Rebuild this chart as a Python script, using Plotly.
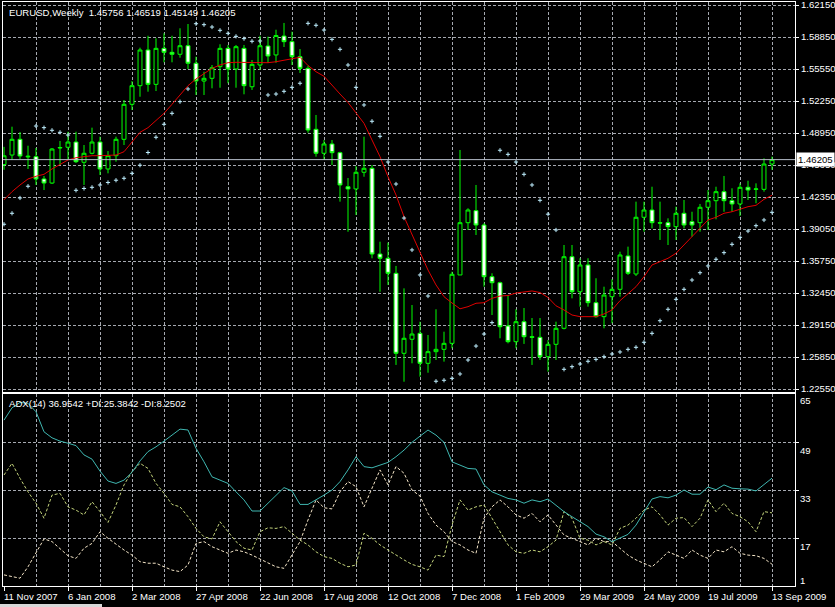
import pandas as pd
import plotly.graph_objects as go
from plotly.subplots import make_subplots

# ---------------- data ----------------
start_week = "2007-11-11"
open_ = [1.4570,1.4668,1.4830,1.4648,1.4651,1.4421,1.4379,1.4740,1.4748,1.4802,
         1.4593,1.4686,1.4802,1.4524,1.4661,1.4830,1.5191,1.5383,1.5751,1.5397,
         1.5768,1.5727,1.5707,1.5795,1.5614,1.5431,1.5459,1.5579,1.5768,1.5555,
         1.5768,1.5372,1.5596,1.5792,1.5700,1.5895,1.5837,1.5682,1.5562,1.4933,
         1.4686,1.4782,1.4692,1.4341,1.4318,1.4490,1.4531,1.3647,1.3603,1.3448,
         1.2623,1.2768,1.2829,1.2520,1.2640,1.2664,1.2726,1.3431,1.3970,1.4094,
         1.3946,1.3413,1.3351,1.2905,1.2743,1.2949,1.2794,1.2788,1.2588,1.2716,
         1.2881,1.3619,1.3258,1.3534,1.3145,1.3001,1.3207,1.3283,1.3627,1.3441,
         1.4026,1.4101,1.3970,1.3970,1.3929,1.4067,1.3980,1.3970,1.4129,1.4197,
         1.4290,1.4197,1.4163,1.4335,1.4314,1.4314,1.45756]
high = [1.4752,1.4960,1.4905,1.4764,1.4740,1.4452,1.4740,1.4813,1.4908,1.4908,
        1.4771,1.4950,1.4857,1.4709,1.4857,1.5235,1.5431,1.5775,1.5898,1.5872,
        1.5923,1.5898,1.5975,1.6019,1.5682,1.5527,1.5596,1.5810,1.5803,1.5803,
        1.5803,1.5648,1.5898,1.5889,1.5960,1.6030,1.5940,1.5761,1.5590,1.5081,
        1.4823,1.4823,1.4702,1.4431,1.4555,1.4857,1.4565,1.3774,1.3764,1.3524,
        1.3293,1.3121,1.2949,1.2812,1.3077,1.2846,1.3465,1.4720,1.4119,1.4359,
        1.3964,1.3448,1.3362,1.3224,1.3077,1.3090,1.2987,1.2987,1.2760,1.2949,
        1.3740,1.3740,1.3603,1.3603,1.3397,1.3310,1.3386,1.3671,1.3723,1.4187,
        1.4187,1.4341,1.4187,1.4015,1.4135,1.4204,1.4083,1.4163,1.4307,1.4341,
        1.4452,1.4325,1.4376,1.4403,1.4376,1.4634,1.46519]
low = [1.4516,1.4617,1.4627,1.4524,1.4359,1.4307,1.4369,1.4565,1.4627,1.4586,
       1.4359,1.4675,1.4462,1.4479,1.4599,1.4771,1.5132,1.5269,1.5321,1.5328,
       1.5624,1.5624,1.5672,1.5555,1.5287,1.5287,1.5356,1.5362,1.5408,1.5362,
       1.5294,1.5339,1.5545,1.5617,1.5620,1.5782,1.5596,1.5514,1.4898,1.4651,
       1.4617,1.4565,1.4187,1.3877,1.4049,1.4444,1.3603,1.3258,1.3328,1.2503,
       1.2330,1.2520,1.2382,1.2423,1.2554,1.2537,1.2675,1.3431,1.3895,1.3843,
       1.3310,1.3018,1.2778,1.2726,1.2675,1.2720,1.2503,1.2554,1.2434,1.2554,
       1.2870,1.3190,1.3104,1.3104,1.2990,1.2881,1.2933,1.3207,1.3431,1.3420,
       1.3877,1.3912,1.3792,1.3740,1.3792,1.3912,1.3826,1.3877,1.3895,1.4005,
       1.4083,1.4083,1.4039,1.4204,1.4170,1.4290,1.45149]
close = [1.4660,1.4830,1.4658,1.4655,1.4421,1.4379,1.4730,1.4745,1.4802,1.4599,
         1.4686,1.4802,1.4524,1.4661,1.4830,1.5191,1.5383,1.5751,1.5397,1.5768,
         1.5727,1.5707,1.5795,1.5614,1.5431,1.5459,1.5568,1.5768,1.5555,1.5785,
         1.5383,1.5603,1.5795,1.5689,1.5900,1.5837,1.5682,1.5562,1.4926,1.4686,
         1.4782,1.4692,1.4359,1.4318,1.4490,1.4531,1.3647,1.3603,1.3448,1.2623,
         1.2778,1.2822,1.2520,1.2640,1.2664,1.2726,1.3438,1.3970,1.4101,1.3946,
         1.3413,1.3351,1.2897,1.2743,1.2949,1.2794,1.2788,1.2588,1.2716,1.2881,
         1.3619,1.3258,1.3534,1.3145,1.3001,1.3224,1.3283,1.3637,1.3448,1.4026,
         1.4101,1.3970,1.3966,1.3929,1.4067,1.3946,1.3946,1.4129,1.4197,1.4290,
         1.4197,1.4163,1.4335,1.4307,1.4318,1.4575,1.46205]
ma = [1.4206,1.4290,1.4359,1.4421,1.4449,1.4469,1.4524,1.4572,1.4617,1.4640,
      1.4651,1.4661,1.4661,1.4661,1.4668,1.4702,1.4805,1.4902,1.4950,1.5019,
      1.5098,1.5191,1.5287,1.5383,1.5452,1.5511,1.5562,1.5596,1.5620,1.5624,
      1.5624,1.5624,1.5620,1.5620,1.5630,1.5648,1.5665,1.5676,1.5591,1.5527,
      1.5480,1.5385,1.5297,1.5210,1.5106,1.4995,1.4823,1.4651,1.4444,1.4256,
      1.4032,1.3843,1.3655,1.3482,1.3328,1.3207,1.3142,1.3082,1.3104,1.3139,
      1.3145,1.3190,1.3214,1.3219,1.3245,1.3255,1.3266,1.3250,1.3199,1.3113,
      1.3070,1.3018,1.3001,1.3001,1.3001,1.3029,1.3070,1.3166,1.3242,1.3310,
      1.3413,1.3534,1.3568,1.3603,1.3655,1.3740,1.3833,1.3912,1.3998,1.4026,
      1.4067,1.4083,1.4108,1.4135,1.4149,1.4211,1.4253]
sar = [1.3954,1.4067,1.4225,1.4346,1.4967,1.4950,1.4923,1.4902,1.4874,1.4304,
       1.4323,1.4335,1.4359,1.4385,1.4408,1.4428,1.4479,1.4563,1.4694,1.4851,
       1.4985,1.5098,1.5218,1.5349,1.6022,1.6012,1.5988,1.5954,1.5923,1.5892,
       1.5868,1.5841,1.5844,1.5287,1.5297,1.5325,1.5366,1.5408,1.6026,1.6006,
       1.5957,1.5861,1.5758,1.5596,1.5366,1.5184,1.5016,1.4861,1.4596,1.4369,
       1.4018,1.3689,1.3431,1.3214,1.2335,1.2345,1.2365,1.2410,1.2554,1.2698,
       1.2822,1.2939,1.4717,1.4675,1.4596,1.4469,1.4359,1.4201,1.4058,1.3895,
       1.2458,1.2485,1.2513,1.2541,1.2561,1.2588,1.2616,1.2637,1.2664,1.2685,
       1.2737,1.2829,1.2959,1.3077,1.3180,1.3283,1.3379,1.3454,1.3524,1.3593,
       1.3661,1.3747,1.3819,1.3884,1.3939,1.3998,1.4077]
adx = [56.3,60.4,62.2,61.9,59.1,52.4,50.4,49.3,48.6,47.8,
       44.7,43.3,39.3,36.0,35.2,36.3,38.9,42.7,45.8,47.4,
       49.3,51.3,53.3,53.0,46.9,42.4,37.4,36.3,35.2,32.4,
       29.7,26.0,26.0,28.6,31.3,33.8,32.7,28.2,28.2,29.7,
       31.3,33.0,35.8,39.7,44.1,40.8,40.4,41.3,42.2,44.1,
       46.3,48.9,51.0,53.0,51.3,48.9,42.4,41.3,40.2,40.0,
       34.7,32.4,31.3,30.2,29.7,28.6,29.7,29.1,30.0,27.8,
       25.8,24.1,22.4,20.8,18.3,17.4,15.8,17.1,18.2,21.3,
       25.8,30.0,30.8,30.4,31.3,33.0,31.6,31.6,34.0,33.1,
       34.7,33.6,33.4,33.3,32.7,34.7,36.95]
plus_di = [38.0,41.9,36.9,32.4,28.6,23.6,31.3,31.9,27.4,26.3,
           24.7,29.1,25.8,22.2,28.0,34.7,39.1,41.9,40.2,35.2,
           31.9,28.2,27.4,24.1,20.2,17.4,16.7,22.4,19.1,15.8,
           13.6,13.0,19.1,20.4,20.2,20.8,18.6,16.3,14.7,12.4,
           10.8,10.2,8.6,7.4,8.0,18.6,16.9,14.7,13.0,11.3,
           9.7,8.2,7.4,6.3,11.3,10.8,21.3,29.7,26.3,27.4,
           28.0,23.6,19.1,14.7,12.4,11.9,13.0,12.4,14.1,16.3,
           25.8,23.6,16.9,16.3,14.7,15.8,14.7,20.2,21.3,23.6,
           26.3,27.4,24.7,21.3,23.6,23.8,20.8,23.6,29.7,25.8,
           28.6,25.2,24.1,22.4,19.1,25.8,25.38]
minus_di = [4.7,4.1,3.6,7.4,11.9,16.7,15.8,13.6,11.1,10.2,
            13.6,15.2,19.1,16.9,14.9,13.0,11.3,9.1,8.6,8.6,
            7.4,6.3,5.8,8.0,15.2,15.8,14.1,13.0,11.9,13.0,
            12.4,11.3,10.0,8.6,7.4,6.9,11.3,15.8,23.0,29.7,
            27.1,26.7,32.4,35.8,34.1,27.4,33.6,39.7,34.7,40.8,
            38.6,33.0,31.0,25.2,21.3,19.1,15.8,14.7,13.0,11.9,
            23.6,27.4,29.7,27.4,24.7,23.6,25.2,22.4,24.7,21.3,
            18.0,16.9,15.8,14.7,16.9,15.8,15.8,13.6,11.3,9.7,
            8.6,7.4,9.7,12.4,11.3,10.2,13.0,11.3,10.2,13.0,
            12.4,14.1,11.9,11.3,11.1,10.2,8.25]
price_ticks = [1.22550,1.25850,1.29150,1.32450,1.35750,1.39050,1.42350,
               1.45650,1.48950,1.52250,1.55550,1.58850,1.62150]
adx_ticks = [65, 49, 33, 17, 1]
date_labels = ["11 Nov 2007","6 Jan 2008","2 Mar 2008","27 Apr 2008","22 Jun 2008",
               "17 Aug 2008","12 Oct 2008","7 Dec 2008","1 Feb 2009","29 Mar 2009",
               "24 May 2009","19 Jul 2009","13 Sep 2009"]
header = "EURUSD,Weekly  1.45756 1.46519 1.45149 1.46205"
adx_header = "ADX(14) 36.9542 +DI:25.3842 -DI:8.2502"
last_price = close[-1]

dates = pd.date_range(start_week, periods=len(close), freq="7D")
label_dates = pd.to_datetime(date_labels, format="%d %b %Y")

# ---------------- style ----------------
FONT = "Liberation Sans, Arial, sans-serif"
GRID = "#a6a9b0"
BORDER = "#ffffff"
FS = 9.6

fig = make_subplots(rows=2, cols=1, shared_xaxes=True, vertical_spacing=0.01)

fig.add_trace(go.Candlestick(
    x=dates, open=open_, high=high, low=low, close=close,
    increasing=dict(line=dict(color="#00ff00", width=1), fillcolor="#000000"),
    decreasing=dict(line=dict(color="#00ff00", width=1), fillcolor="#ffffff"),
    whiskerwidth=0, showlegend=False, hoverinfo="skip"), row=1, col=1)
fig.add_trace(go.Scatter(x=dates, y=ma, mode="lines",
                         line=dict(color="#e00000", width=1),
                         showlegend=False, hoverinfo="skip"), row=1, col=1)
fig.add_trace(go.Scatter(x=dates, y=sar, mode="markers",
                         marker=dict(symbol="cross-thin", size=3,
                                     line=dict(color="#bfefff", width=1)),
                         showlegend=False, hoverinfo="skip"), row=1, col=1)

fig.add_trace(go.Scatter(x=dates, y=plus_di, mode="lines",
                         line=dict(color="#c4d47c", width=1, dash="3px,2px"),
                         showlegend=False, hoverinfo="skip"), row=2, col=1)
fig.add_trace(go.Scatter(x=dates, y=minus_di, mode="lines",
                         line=dict(color="#f5e6c8", width=1, dash="3px,2px"),
                         showlegend=False, hoverinfo="skip"), row=2, col=1)
fig.add_trace(go.Scatter(x=dates, y=adx, mode="lines",
                         line=dict(color="#3fb6b0", width=1),
                         showlegend=False, hoverinfo="skip"), row=2, col=1)

# bid line
fig.add_hline(y=last_price, line=dict(color="#b4bcc8", width=1), row=1, col=1)

x0 = dates[0] - pd.Timedelta(days=0.875)
x1 = dates[0] + pd.Timedelta(days=7 * 98.875)

xcommon = dict(range=[x0, x1], showline=True, mirror=True, linecolor=BORDER,
               linewidth=1, showgrid=True, gridcolor=GRID, griddash="3px,2px",
               gridwidth=1, tickmode="linear", tick0=dates[0],
               dtick=8 * 7 * 24 * 3600 * 1000, showticklabels=False,
               minor=dict(tickmode="linear", tick0=dates[4],
                          dtick=4 * 7 * 24 * 3600 * 1000, showgrid=True,
                          gridcolor=GRID, griddash="3px,2px", gridwidth=1),
               zeroline=False, rangeslider=dict(visible=False))
fig.update_xaxes(**xcommon)
fig.update_xaxes(ticks="outside", ticklen=4, tickcolor=BORDER, row=2, col=1)

fig.update_layout(
    width=835, height=607,
    margin=dict(l=3, r=40, t=2, b=21),
    paper_bgcolor="#000000", plot_bgcolor="#000000",
    font=dict(family=FONT, size=FS, color="#ffffff"),
    showlegend=False,
    yaxis=dict(domain=[0.3322, 1.0], range=[1.22241, 1.62460], side="right",
               tickmode="array", tickvals=price_ticks,
               ticktext=[f"{v:.5f}" for v in price_ticks],
               ticks="outside", ticklen=3, tickcolor=BORDER,
               ticklabeloverflow="allow",
               showline=True, mirror=True, linecolor=BORDER, linewidth=1,
               showgrid=True, gridcolor=GRID, griddash="3px,2px", zeroline=False,
               automargin=False, tickfont=dict(size=FS, color="#ffffff")),
    yaxis2=dict(domain=[0.0, 0.3296], range=[1.0, 65.17], side="right",
                tickmode="array", tickvals=adx_ticks[1:4], showticklabels=False,
                ticks="outside", ticklen=3, tickcolor=BORDER, automargin=False,
                showline=True, mirror=True, linecolor=BORDER, linewidth=1,
                showgrid=True, gridcolor=GRID, griddash="3px,2px", zeroline=False),
)

# window tab strip at the bottom-left (terminal decoration)
fig.add_shape(type="rect", xref="paper", yref="paper",
              x0=-0.004, x1=0.125, y0=-0.036, y1=-0.031,
              line=dict(width=0), fillcolor="#d8d8d8", layer="above")

anns = []
anns.append(dict(xref="paper", yref="paper", x=0, y=1, xanchor="left", yanchor="middle",
                 xshift=4, yshift=-10, text=header, showarrow=False,
                 font=dict(size=FS, color="#ffffff")))
anns.append(dict(xref="paper", yref="paper", x=0, y=0.3296, xanchor="left",
                 yanchor="middle", xshift=4, yshift=-10, text=adx_header,
                 showarrow=False, font=dict(size=FS, color="#ffffff")))
adx_shift = {65: -6, 49: -8, 33: -8, 17: -8, 1: 6}
for v in adx_ticks:
    anns.append(dict(xref="paper", yref="y2", x=1, y=v, xanchor="left",
                     yanchor="middle", xshift=3, yshift=adx_shift[v], text=str(v),
                     showarrow=False, font=dict(size=FS, color="#ffffff")))
for d, t in zip(label_dates, date_labels):
    anns.append(dict(xref="x2", yref="paper", x=d, y=0, xanchor="left",
                     yanchor="middle", xshift=-2, yshift=-10, text=t,
                     showarrow=False, font=dict(size=FS, color="#ffffff")))
anns.append(dict(xref="paper", yref="y", x=1, y=last_price, xanchor="left",
                 yanchor="middle", xshift=1, text=f"{last_price:.5f}",
                 showarrow=False, bgcolor="#ffffff", borderpad=1,
                 font=dict(size=FS, color="#000000")))
fig.update_layout(annotations=anns)

fig.write_html("out.html", config={"displayModeBar": False},
               post_script="document.body.style.margin='0';document.body.style.background='#000';")
